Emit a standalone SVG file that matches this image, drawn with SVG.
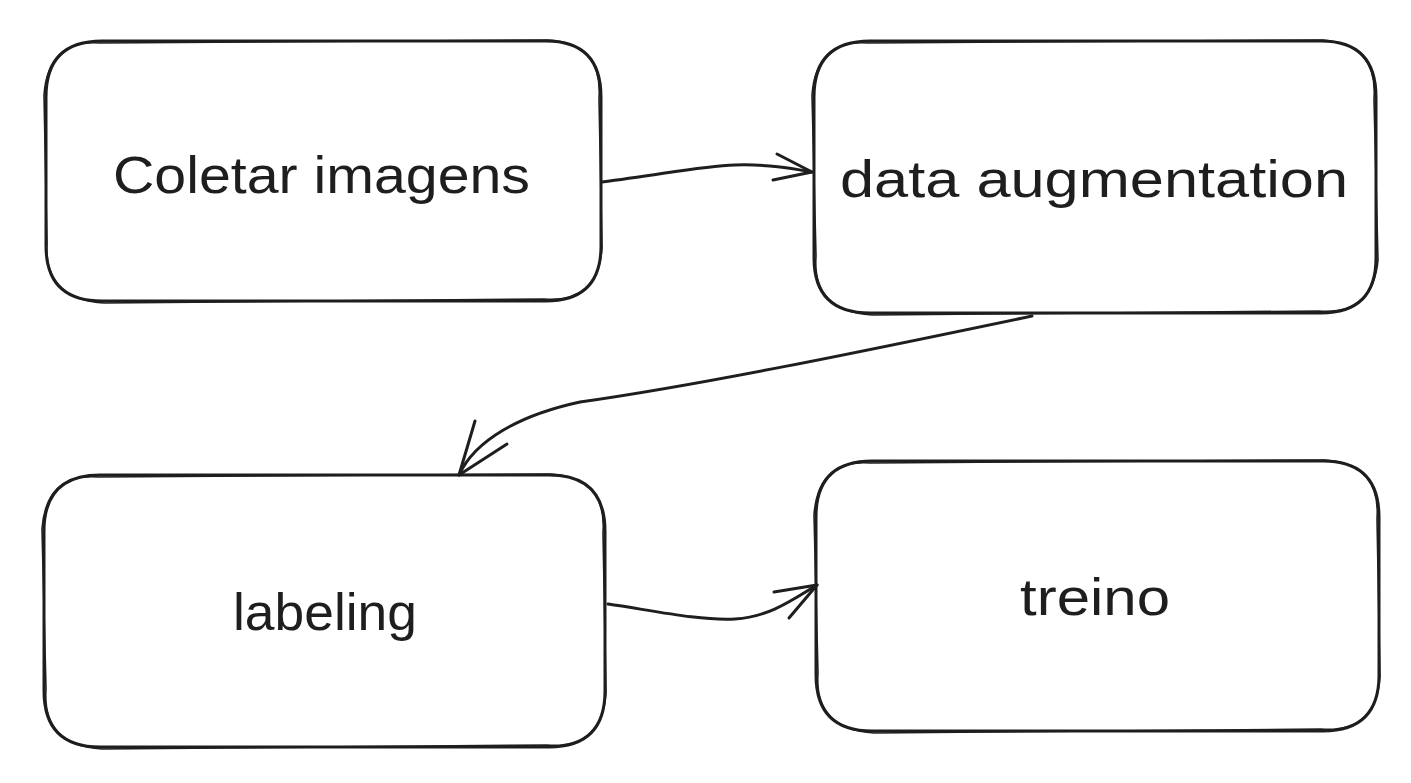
<svg xmlns="http://www.w3.org/2000/svg" width="1411" height="783" viewBox="0 0 1411 783">
<defs>
<style>
.s{fill:none;stroke:#1e1e1e;stroke-width:3;stroke-linecap:round;stroke-linejoin:round}
.s2{fill:none;stroke:#1e1e1e;stroke-width:1.6;stroke-linecap:round;stroke-linejoin:round}
.t{font-family:"Liberation Sans","Open Sans",sans-serif;font-size:52px;fill:#1e1e1e;text-anchor:start}
</style>
</defs>
<rect width="1411" height="783" fill="#ffffff"/>
<g id="node-coletar">
<path class="s" d="M102 41 L546 41 Q601 41 601 97 L601 246 Q601 301 546 301 L102 301 Q46 301 46 246 L46 97 Q46 41 102 41 Z"/>
<path class="s2" d="M100 43 L548 40 Q603 43 599 99 L602 248 Q598 303 544 299 L104 303 Q44 299 47 244 L44 95 Q48 39 100 43 Z"/>
<text class="t" x="113" y="193" textLength="417" lengthAdjust="spacingAndGlyphs">Coletar imagens</text>
</g>
<g id="node-augmentation">
<path class="s" d="M870 41 L1321 41 Q1376 41 1376 97 L1376 258 Q1376 313 1321 313 L870 313 Q814 313 814 258 L814 97 Q814 41 870 41 Z"/>
<path class="s2" d="M868 43 L1323 40 Q1378 44 1374 99 L1378 260 Q1373 315 1319 311 L872 315 Q812 311 816 256 L812 95 Q816 39 868 43 Z"/>
<text class="t" x="840" y="197" textLength="508" lengthAdjust="spacingAndGlyphs">data augmentation</text>
</g>
<g id="node-labeling">
<path class="s" d="M100 475 L549 475 Q605 475 605 531 L605 691 Q605 747 549 747 L100 747 Q44 747 44 691 L44 531 Q44 475 100 475 Z"/>
<path class="s2" d="M98 477 L551 474 Q607 478 603 533 L606 693 Q602 749 547 745 L102 749 Q42 745 46 689 L42 529 Q46 473 98 477 Z"/>
<text class="t" x="233" y="630" textLength="184" lengthAdjust="spacingAndGlyphs">labeling</text>
</g>
<g id="node-treino">
<path class="s" d="M872 461 L1323 461 Q1379 461 1379 517 L1379 675 Q1379 731 1323 731 L872 731 Q816 731 816 675 L816 517 Q816 461 872 461 Z"/>
<path class="s2" d="M870 463 L1325 460 Q1381 464 1377 519 L1380 677 Q1376 733 1321 729 L874 733 Q814 729 818 673 L814 515 Q818 459 870 463 Z"/>
<text class="t" x="1020" y="615" textLength="150" lengthAdjust="spacingAndGlyphs">treino</text>
</g>
<g id="connectors">
<path class="s" d="M602 182 C660 175 700 166 735 165 C770 164 795 169 812 172"/>
<path class="s" d="M777 154 L812 172 L773 180"/>
<path class="s" d="M1032 316 C860 352 700 385 580 402 C520 415 475 440 459 475"/>
<path class="s" d="M475 421 L459 475 L507 444"/>
<path class="s" d="M608 604 C650 610 700 621 735 619 C770 617 795 598 817 585"/>
<path class="s" d="M774 592 L817 585 L789 618"/>
</g>
</svg>
